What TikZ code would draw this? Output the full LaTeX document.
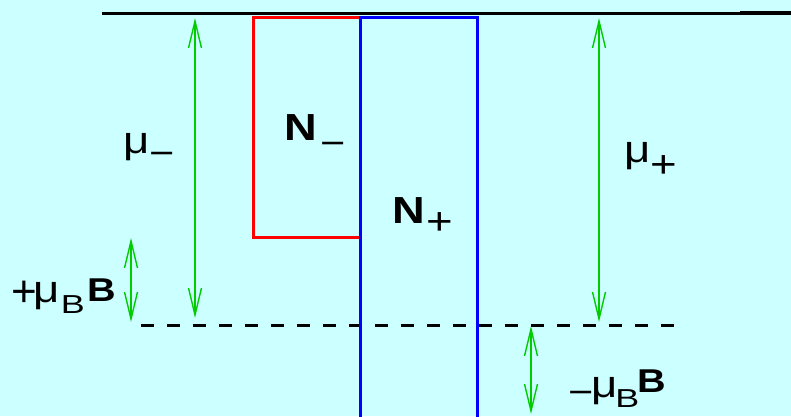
\documentclass[tikz,border=0pt]{standalone}
\usepackage{fontspec}
\setmainfont{Liberation Sans}
\usetikzlibrary{arrows.meta}
\definecolor{bgcyan}{RGB}{204,255,255}
\definecolor{arrgreen}{RGB}{0,204,0}
\newcommand{\fsz}[1]{\fontsize{#1}{#1}\selectfont}
\newcommand{\wide}[1]{\scalebox{1.2}[1]{#1}}
\newcommand{\wider}[1]{\scalebox{1.38}[1]{#1}}
\begin{document}
\begin{tikzpicture}[x=1pt,y=-1pt,
  lbl/.style={anchor=base west,inner sep=0pt,outer sep=0pt},
  dimarrow/.style={draw=arrgreen,line width=1.4pt,
    {Straight Barb[length=27pt,width=13pt,line width=1.4pt]}-{Straight Barb[length=27pt,width=13pt,line width=1.4pt]}},
  box/.style={line width=3pt}]
\fill[bgcyan] (0,0) rectangle (791,416);
\useasboundingbox (0,0) rectangle (791,416);
\begin{scope}
\clip (0,0) rectangle (791,416);
% levels
\coordinate (topL) at (102,13);
\coordinate (topR) at (791,13);
\coordinate (topRk) at (740,13);
\draw[line width=3pt] (topL) -- (topR);
\draw[line width=4.5pt] (topRk) -- (topR);
\coordinate (dashL) at (141,325);
\coordinate (dashR) at (674,325);
\draw[line width=3pt,dash pattern=on 13pt off 13pt] (dashL) -- (dashR);
% bands
\draw[box,red] (360,237) -- (253,237) -- (253,17) -- (360,17);
\draw[box,blue] (360,430) rectangle (477,17);
% arrows
\coordinate (amT) at (195,18);
\coordinate (amB) at (195,318);
\coordinate (apT) at (599,18);
\coordinate (apB) at (599,322);
\coordinate (bpT) at (131,238);
\coordinate (bpB) at (131,322);
\coordinate (bmT) at (531,326);
\coordinate (bmB) at (531,414);
\draw[dimarrow] (amT) -- (amB);
\draw[dimarrow] (apT) -- (apB);
\draw[dimarrow] (bpT) -- (bpB);
\draw[dimarrow] (bmT) -- (bmB);
\end{scope}
% labels
\node[lbl] (muminus) at (123.9,153) {\rlap{\wide{\fsz{38}μ}}\kern25.1pt\raisebox{-12.2pt}{\wide{\fsz{36}−}}};
\node[lbl] (muplus) at (624.9,162) {\rlap{\wide{\fsz{38}μ}}\kern25.5pt\raisebox{-15.3pt}{\wide{\fsz{38}+}}};
\node[lbl] (Nminus) at (284.7,140) {\rlap{\wide{\fsz{37.7}\textbf{N}}}\kern35.3pt\raisebox{-15.2pt}{\wide{\fsz{36}−}}};
\node[lbl] (Nplus) at (392.7,223) {\rlap{\wide{\fsz{37.7}\textbf{N}}}\kern33.7pt\raisebox{-11.3pt}{\wide{\fsz{38}+}}};
\node[lbl] (muBplus) at (11.4,302) {\rlap{\raisebox{-4.4pt}{\fsz{44}+}}\kern22.5pt\rlap{\wide{\fsz{38}μ}}\kern27pt\rlap{\raisebox{-11pt}{\wider{\fsz{26}B}}}\kern26.2pt\raisebox{1pt}{\wide{\fsz{33}\textbf{B}}}};
\node[lbl] (muBminus) at (568,397) {\rlap{\raisebox{-7.6pt}{\wide{\fsz{36}−}}}\kern23.9pt\rlap{\wide{\fsz{38}μ}}\kern23.5pt\rlap{\raisebox{-10pt}{\wider{\fsz{26}B}}}\kern21.7pt\raisebox{5pt}{\wide{\fsz{33}\textbf{B}}}};
\end{tikzpicture}
\end{document}
